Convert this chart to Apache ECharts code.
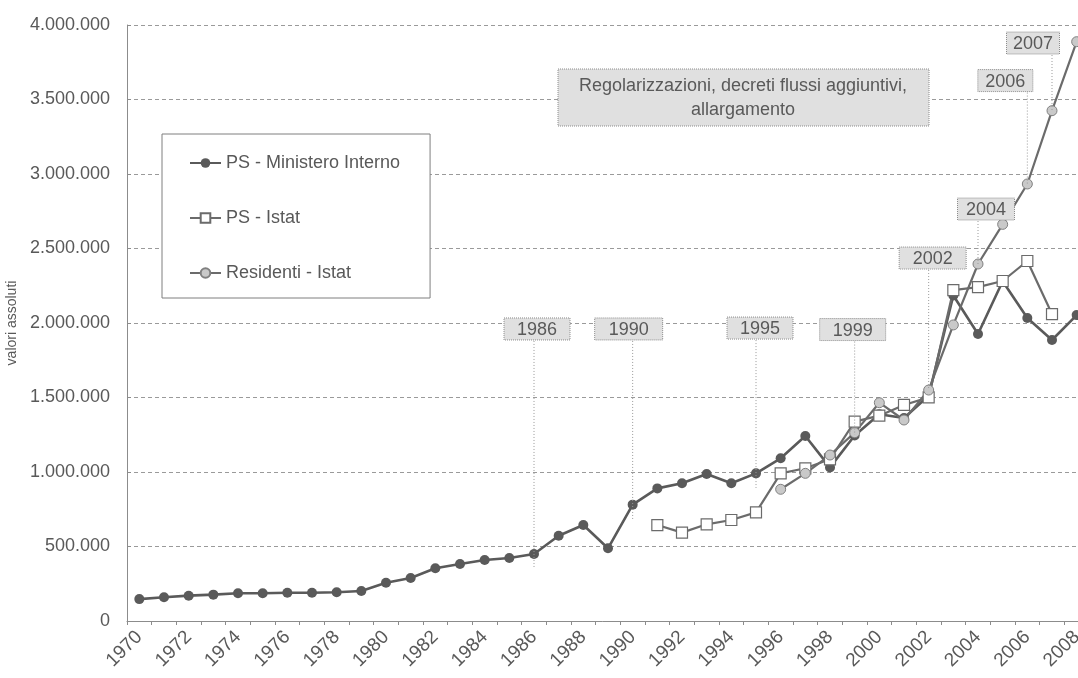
<!DOCTYPE html>
<html>
<head>
<meta charset="utf-8">
<script src="https://cdn.jsdelivr.net/npm/echarts@6/dist/echarts.min.js"></script>
<style>
  html, body { margin: 0; padding: 0; background: #fff; }
  #chart { width: 1078px; height: 678px; }
</style>
</head>
<body>
<div id="chart"></div>
<script>
// anni 1970-2008
const years = []
for (let y = 1970; y <= 2008; y++) years.push(String(y))

const psMinistero = [
  147000, 159000, 170000, 177000, 186000, 186000, 190000, 190000, 193000, 201000,
  257000, 289000, 354000, 383000, 409000, 423000, 450000, 572000, 644000, 488000,
  781000, 890000, 924000, 987000, 924000, 991000, 1092000, 1242000, 1031000, 1245000,
  1388000, 1362000, 1512000, 2185000, 1926000, 2280000, 2033000, 1886000, 2053000
]

// PS - Istat: 1991-2007
const psIstat = [
  null, null, null, null, null, null, null, null, null, null,
  null, null, null, null, null, null, null, null, null, null,
  null, 644000, 593000, 649000, 678000, 729000, 991000, 1025000, 1085000, 1338000,
  1378000, 1450000, 1501000, 2221000, 2241000, 2282000, 2416000, 2060000, null
]

// Residenti - Istat: 1996-2008
const residenti = [
  null, null, null, null, null, null, null, null, null, null,
  null, null, null, null, null, null, null, null, null, null,
  null, null, null, null, null, null, 884000, 991000, 1114000, 1264000,
  1465000, 1349000, 1550000, 1987000, 2396000, 2662000, 2933000, 3425000, 3888000
]

const seriesNames = ['PS - Ministero Interno', 'PS - Istat', 'Residenti - Istat']
const annoYears = ['1986', '1990', '1995', '1999', '2002', '2004', '2006', '2007']
const noteText = 'Regolarizzazioni, decreti flussi aggiuntivi,\nallargamento'

// posizione delle etichette (livello box, fine linea guida, spostamento, larghezza)
const annoLayout = [
  { level: 1960000, end: 356000, dx: 3, w: 66 },
  { level: 1960000, end: 678000, dx: -4, w: 68 },
  { level: 1966000, end: 893000, dx: 4, w: 66 },
  { level: 1956000, end: 1250000, dx: -2, w: 66 },
  { level: 2436000, end: 1550000, dx: 4, w: 67 },
  { level: 2765000, end: 2396000, dx: 8, w: 57 },
  { level: 3627000, end: 2933000, dx: -22, w: 55 },
  { level: 3879000, end: 3425000, dx: -19, w: 53 }
]

const FONT = '"Liberation Sans", Arial, sans-serif'
const TXT = '#595959'

const fmt = v => String(v).replace(/\B(?=(\d{3})+(?!\d))/g, '.')

const chart = echarts.init(document.getElementById('chart'))

chart.setOption({
  backgroundColor: '#fff',
  animation: false,
  textStyle: { fontFamily: FONT },
  grid: { left: 127, top: 25, width: 962, height: 596, containLabel: false, outerBoundsMode: 'none' },
  legend: {
    data: seriesNames,
    orient: 'vertical',
    left: 162,
    top: 134,
    padding: [20, 30, 16, 27],
    itemGap: 37,
    itemWidth: 31,
    itemHeight: 12,
    backgroundColor: '#fff',
    borderColor: '#7f7f7f',
    borderWidth: 1,
    textStyle: { color: TXT, fontSize: 18, lineHeight: 18, fontFamily: FONT }
  },
  xAxis: {
    type: 'category',
    data: years,
    boundaryGap: true,
    axisLine: { lineStyle: { color: '#8c8c8c', width: 1 } },
    axisTick: { show: true, interval: 0, length: 4, lineStyle: { color: '#8c8c8c' } },
    axisLabel: { interval: 1, rotate: 45, color: TXT, fontSize: 19, margin: 13, fontFamily: FONT },
    splitLine: { show: false }
  },
  yAxis: {
    type: 'value',
    min: 0,
    max: 4000000,
    interval: 500000,
    name: 'valori assoluti',
    nameLocation: 'middle',
    nameRotate: 90,
    nameGap: 108,
    nameMoveOverlap: false,
    nameTextStyle: { color: TXT, fontSize: 14, fontFamily: FONT },
    axisLine: { show: true, lineStyle: { color: '#8c8c8c', width: 1 } },
    axisTick: { show: true, inside: true, length: 4, lineStyle: { color: '#8c8c8c' } },
    axisLabel: { color: TXT, fontSize: 18, margin: 17, formatter: fmt, fontFamily: FONT },
    splitLine: { lineStyle: { color: '#9a9a9a', type: [4, 3], width: 1 } }
  },
  series: [
    {
      name: seriesNames[0],
      type: 'line',
      data: psMinistero,
      symbol: 'circle',
      symbolSize: 10,
      itemStyle: { color: '#5a5a5a', borderColor: '#5a5a5a', borderWidth: 0 },
      lineStyle: { color: '#5a5a5a', width: 2.6 }
    },
    {
      name: seriesNames[1],
      type: 'line',
      data: psIstat,
      symbol: 'rect',
      symbolSize: 11,
      itemStyle: { color: '#ffffff', borderColor: '#6b6b6b', borderWidth: 1.2 },
      lineStyle: { color: '#6b6b6b', width: 2.2 }
    },
    {
      name: seriesNames[2],
      type: 'line',
      data: residenti,
      symbol: 'circle',
      symbolSize: 10,
      itemStyle: { color: '#c9c9c9', borderColor: '#808080', borderWidth: 1 },
      lineStyle: { color: '#6b6b6b', width: 2.2 }
    }
  ]
})

// etichette degli anni con linea guida, posizionate con le scale del grafico
const graphics = []
annoYears.forEach((yr, i) => {
  const lay = annoLayout[i]
  const top = chart.convertToPixel({ gridIndex: 0 }, [yr, lay.level])
  const bot = chart.convertToPixel({ gridIndex: 0 }, [yr, lay.end])
  graphics.push({
    type: 'line',
    shape: { x1: top[0], y1: top[1], x2: bot[0], y2: bot[1] },
    style: { stroke: '#9a9a9a', lineWidth: 1, lineDash: [1, 2] },
    z: 10,
    silent: true
  })
  const cx = top[0] + lay.dx
  graphics.push({
    type: 'rect',
    shape: { x: cx - lay.w / 2, y: top[1] - 11, width: lay.w, height: 22 },
    style: { fill: '#e0e0e0', stroke: '#8c8c8c', lineWidth: 1, lineDash: [1, 1] },
    z: 11,
    silent: true
  })
  graphics.push({
    type: 'text',
    x: cx,
    y: top[1] + 1,
    style: { text: yr, fill: TXT, font: '18px ' + FONT, align: 'center', verticalAlign: 'middle' },
    z: 12,
    silent: true
  })
})

graphics.push({
  type: 'rect',
  shape: { x: 558, y: 69, width: 371, height: 57 },
  style: { fill: '#e0e0e0', stroke: '#8c8c8c', lineWidth: 1, lineDash: [1, 1] },
  z: 11,
  silent: true
})
graphics.push({
  type: 'text',
  x: 743,
  y: 98,
  style: {
    text: noteText, fill: TXT, font: '18px ' + FONT,
    align: 'center', verticalAlign: 'middle', lineHeight: 24
  },
  z: 12,
  silent: true
})

chart.setOption({ graphic: graphics })
</script>
</body>
</html>
